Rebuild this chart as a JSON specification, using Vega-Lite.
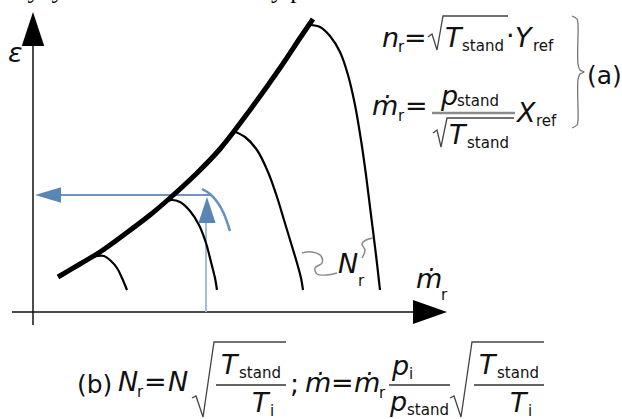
{
  "$schema": "https://vega.github.io/schema/vega-lite/v6.json",
  "width": 622,
  "height": 419,
  "padding": 0,
  "autosize": {"type": "none"},
  "background": "white",
  "config": {"view": {"stroke": null}},
  "datasets": {
    "segments": [
      {"part": "axis", "x": 0, "y": -13, "x2": 0, "y2": 270},
      {"part": "axis", "x": -21, "y": 0, "x2": 400, "y2": 0},
      {"part": "guide-h", "x": 20, "y": 117, "x2": 177, "y2": 117},
      {"part": "guide-v", "x": 173, "y": 0, "x2": 173, "y2": 95},
      {"part": "bar-a", "x": 399, "y": 199, "x2": 482, "y2": 199},
      {"part": "bar-b", "x": 183, "y": -73, "x2": 253, "y2": -73},
      {"part": "bar-b", "x": 356, "y": -73, "x2": 417, "y2": -73},
      {"part": "bar-b", "x": 441, "y": -73, "x2": 511, "y2": -73}
    ],
    "heads": [
      {"part": "axis", "dir": "up", "x": 0, "y": 283},
      {"part": "axis", "dir": "right", "x": 397, "y": 0},
      {"part": "guide", "dir": "left", "x": 15, "y": 117},
      {"part": "guide", "dir": "up", "x": 174, "y": 102}
    ],
    "curves": [
      {"line": "env", "x": 25, "y": 35}, {"line": "env", "x": 47, "y": 48}, {"line": "env", "x": 67, "y": 60},
      {"line": "env", "x": 92, "y": 78}, {"line": "env", "x": 117, "y": 97}, {"line": "env", "x": 137, "y": 114},
      {"line": "env", "x": 162, "y": 137}, {"line": "env", "x": 187, "y": 163}, {"line": "env", "x": 217, "y": 202},
      {"line": "env", "x": 247, "y": 244}, {"line": "env", "x": 267, "y": 274}, {"line": "env", "x": 280, "y": 293},

      {"line": "s1", "x": 57, "y": 54}, {"line": "s1", "x": 64, "y": 56}, {"line": "s1", "x": 71, "y": 56},
      {"line": "s1", "x": 78, "y": 51}, {"line": "s1", "x": 84, "y": 44}, {"line": "s1", "x": 89, "y": 34},
      {"line": "s1", "x": 94, "y": 22},

      {"line": "s2", "x": 132, "y": 110}, {"line": "s2", "x": 139, "y": 112}, {"line": "s2", "x": 147, "y": 110},
      {"line": "s2", "x": 157, "y": 101}, {"line": "s2", "x": 166, "y": 87}, {"line": "s2", "x": 173, "y": 69},
      {"line": "s2", "x": 178, "y": 50}, {"line": "s2", "x": 182, "y": 34}, {"line": "s2", "x": 184, "y": 22},

      {"line": "s3", "x": 200, "y": 181}, {"line": "s3", "x": 212, "y": 175}, {"line": "s3", "x": 224, "y": 162},
      {"line": "s3", "x": 235, "y": 140}, {"line": "s3", "x": 244, "y": 115}, {"line": "s3", "x": 251, "y": 92},
      {"line": "s3", "x": 258, "y": 69}, {"line": "s3", "x": 264, "y": 49}, {"line": "s3", "x": 268, "y": 34},
      {"line": "s3", "x": 270, "y": 22},

      {"line": "s4", "x": 277, "y": 287}, {"line": "s4", "x": 287, "y": 285}, {"line": "s4", "x": 297, "y": 276},
      {"line": "s4", "x": 307, "y": 260}, {"line": "s4", "x": 315, "y": 237}, {"line": "s4", "x": 322, "y": 207},
      {"line": "s4", "x": 328, "y": 172}, {"line": "s4", "x": 333, "y": 137}, {"line": "s4", "x": 338, "y": 97},
      {"line": "s4", "x": 343, "y": 57}, {"line": "s4", "x": 347, "y": 22},

      {"line": "arc", "x": 169, "y": 123}, {"line": "arc", "x": 177, "y": 118}, {"line": "arc", "x": 185, "y": 109},
      {"line": "arc", "x": 191, "y": 98}, {"line": "arc", "x": 197, "y": 81},

      {"line": "lead1", "x": 269, "y": 59}, {"line": "lead1", "x": 279, "y": 60}, {"line": "lead1", "x": 288, "y": 56},
      {"line": "lead1", "x": 289, "y": 49}, {"line": "lead1", "x": 282, "y": 44}, {"line": "lead1", "x": 284, "y": 38},
      {"line": "lead1", "x": 294, "y": 37}, {"line": "lead1", "x": 304, "y": 39},

      {"line": "lead2", "x": 329, "y": 54}, {"line": "lead2", "x": 332, "y": 62}, {"line": "lead2", "x": 329, "y": 68},
      {"line": "lead2", "x": 333, "y": 72}, {"line": "lead2", "x": 340, "y": 74}
    ],
    "strokes": [
      {"stroke": "rootA1", "x": 395, "y": 275}, {"stroke": "rootA1", "x": 399, "y": 278}, {"stroke": "rootA1", "x": 404, "y": 262},
      {"stroke": "rootA1", "x": 410, "y": 296}, {"stroke": "rootA1", "x": 475, "y": 296},
      {"stroke": "rootA2", "x": 400, "y": 179}, {"stroke": "rootA2", "x": 404, "y": 182}, {"stroke": "rootA2", "x": 408, "y": 165},
      {"stroke": "rootA2", "x": 414, "y": 194}, {"stroke": "rootA2", "x": 481, "y": 194},
      {"stroke": "rootB1", "x": 159, "y": -86}, {"stroke": "rootB1", "x": 163, "y": -84}, {"stroke": "rootB1", "x": 170, "y": -105},
      {"stroke": "rootB1", "x": 181, "y": -30}, {"stroke": "rootB1", "x": 253, "y": -30},
      {"stroke": "rootB2", "x": 417, "y": -86}, {"stroke": "rootB2", "x": 421, "y": -84}, {"stroke": "rootB2", "x": 428, "y": -105},
      {"stroke": "rootB2", "x": 439, "y": -30}, {"stroke": "rootB2", "x": 511, "y": -30}
    ],
    "brace": [
      {"x": 539, "y": 296}, {"x": 544, "y": 293}, {"x": 545, "y": 287}, {"x": 545, "y": 248}, {"x": 547, "y": 242},
      {"x": 551, "y": 240}, {"x": 547, "y": 238}, {"x": 545, "y": 232}, {"x": 545, "y": 192}, {"x": 544, "y": 187},
      {"x": 539, "y": 184}
    ],
    "glyphs": [
      {"style": "it", "x": 349, "y": 265, "t": "n"},
      {"style": "it", "x": 412, "y": 265, "t": "T"},
      {"style": "it", "x": 482, "y": 265, "t": "Y"},
      {"style": "it", "x": 339, "y": 197, "t": "ṁ"},
      {"style": "it", "x": 408, "y": 207, "t": "p"},
      {"style": "it", "x": 416, "y": 168, "t": "T"},
      {"style": "it", "x": 484, "y": 190, "t": "X"},
      {"style": "it", "x": 85, "y": -79, "t": "N"},
      {"style": "it", "x": 135, "y": -79, "t": "N"},
      {"style": "it", "x": 188, "y": -62, "t": "T"},
      {"style": "it", "x": 219, "y": -100, "t": "T"},
      {"style": "it", "x": 272, "y": -80, "t": "ṁ"},
      {"style": "it", "x": 321, "y": -80, "t": "ṁ"},
      {"style": "it", "x": 359, "y": -63, "t": "p"},
      {"style": "it", "x": 357, "y": -99, "t": "p"},
      {"style": "it", "x": 446, "y": -62, "t": "T"},
      {"style": "it", "x": 477, "y": -100, "t": "T"},
      {"style": "it", "x": 305, "y": 39, "t": "N"},
      {"style": "it", "x": 383, "y": 24, "t": "ṁ"},
      {"style": "it", "x": -25, "y": 250, "t": "ε"},
      {"style": "op", "x": 371, "y": 265, "t": "="},
      {"style": "op", "x": 473, "y": 267, "t": "·"},
      {"style": "op", "x": 372, "y": 197, "t": "="},
      {"style": "op", "x": 111, "y": -79, "t": "="},
      {"style": "op", "x": 257, "y": -81, "t": ";"},
      {"style": "op", "x": 298, "y": -80, "t": "="},
      {"style": "tag", "x": 554, "y": 228, "t": "(a)"},
      {"style": "tag", "x": 44, "y": -81, "t": "(b)"},
      {"style": "sub", "x": 365, "y": 260, "t": "r"},
      {"style": "sub", "x": 429, "y": 261, "t": "stand"},
      {"style": "sub", "x": 500, "y": 261, "t": "ref"},
      {"style": "sub", "x": 365, "y": 191, "t": "r"},
      {"style": "sub", "x": 424, "y": 206, "t": "stand"},
      {"style": "sub", "x": 434, "y": 164, "t": "stand"},
      {"style": "sub", "x": 503, "y": 186, "t": "ref"},
      {"style": "sub", "x": 104, "y": -85, "t": "r"},
      {"style": "sub", "x": 206, "y": -66, "t": "stand"},
      {"style": "sub", "x": 237, "y": -104, "t": "i"},
      {"style": "sub", "x": 346, "y": -86, "t": "r"},
      {"style": "sub", "x": 376, "y": -67, "t": "i"},
      {"style": "sub", "x": 374, "y": -103, "t": "stand"},
      {"style": "sub", "x": 464, "y": -66, "t": "stand"},
      {"style": "sub", "x": 495, "y": -104, "t": "i"},
      {"style": "sub", "x": 325, "y": 26, "t": "r"},
      {"style": "sub", "x": 408, "y": 12, "t": "r"},
      {"style": "serif", "x": -48, "y": 314, "t": "analýzy v rozsahu celé vazby průtoku."}
    ]
  },
  "encoding": {
    "x": {"field": "x", "type": "quantitative", "scale": {"domain": [-33, 589], "nice": false, "zero": false}, "axis": null},
    "y": {"field": "y", "type": "quantitative", "scale": {"domain": [-107, 312], "nice": false, "zero": false}, "axis": null}
  },
  "layer": [
    {
      "data": {"name": "segments"},
      "transform": [{"filter": "datum.part === 'axis'"}],
      "mark": {"type": "rule", "color": "#111", "strokeWidth": 1.5},
      "encoding": {"x2": {"field": "x2"}, "y2": {"field": "y2"}}
    },
    {
      "data": {"name": "segments"},
      "transform": [{"filter": "datum.part === 'guide-h'"}],
      "mark": {"type": "rule", "color": "#6f94c0", "strokeWidth": 2},
      "encoding": {"x2": {"field": "x2"}, "y2": {"field": "y2"}}
    },
    {
      "data": {"name": "segments"},
      "transform": [{"filter": "datum.part === 'guide-v'"}],
      "mark": {"type": "rule", "color": "#a4bcd9", "strokeWidth": 2},
      "encoding": {"x2": {"field": "x2"}, "y2": {"field": "y2"}}
    },
    {
      "data": {"name": "segments"},
      "transform": [{"filter": "datum.part === 'bar-a'"}],
      "mark": {"type": "rule", "color": "#8c8c8c", "strokeWidth": 2.5},
      "encoding": {"x2": {"field": "x2"}, "y2": {"field": "y2"}}
    },
    {
      "data": {"name": "segments"},
      "transform": [{"filter": "datum.part === 'bar-b'"}],
      "mark": {"type": "rule", "color": "#333", "strokeWidth": 1.3},
      "encoding": {"x2": {"field": "x2"}, "y2": {"field": "y2"}}
    },
    {
      "data": {"name": "curves"},
      "transform": [{"filter": "datum.line === 'env'"}],
      "mark": {"type": "line", "color": "#000", "strokeWidth": 5, "interpolate": "catmull-rom"},
      "encoding": {"order": {"value": null}}
    },
    {
      "data": {"name": "curves"},
      "transform": [{"filter": "datum.line === 's1' || datum.line === 's2' || datum.line === 's3' || datum.line === 's4'"}],
      "mark": {"type": "line", "color": "#000", "strokeWidth": 2.2, "interpolate": "catmull-rom"},
      "encoding": {"detail": {"field": "line"}, "order": {"value": null}}
    },
    {
      "data": {"name": "curves"},
      "transform": [{"filter": "datum.line === 'arc'"}],
      "mark": {"type": "line", "color": "#6690c0", "strokeWidth": 2.5, "interpolate": "catmull-rom"},
      "encoding": {"order": {"value": null}}
    },
    {
      "data": {"name": "curves"},
      "transform": [{"filter": "datum.line === 'lead1' || datum.line === 'lead2'"}],
      "mark": {"type": "line", "color": "#8a8a8a", "strokeWidth": 1.5, "interpolate": "catmull-rom"},
      "encoding": {"detail": {"field": "line"}, "order": {"value": null}}
    },
    {
      "data": {"name": "strokes"},
      "mark": {"type": "line", "color": "#444", "strokeWidth": 1.3},
      "encoding": {"detail": {"field": "stroke"}, "order": {"value": null}}
    },
    {
      "data": {"name": "brace"},
      "mark": {"type": "line", "color": "#777", "strokeWidth": 1.3, "interpolate": "catmull-rom"},
      "encoding": {"order": {"value": null}}
    },
    {
      "data": {"name": "heads"},
      "transform": [{"filter": "datum.part === 'axis'"}],
      "mark": {"type": "point", "filled": true, "opacity": 1, "size": 1156, "color": "#000", "strokeWidth": 0},
      "encoding": {
        "shape": {"field": "dir", "type": "nominal", "legend": null,
          "scale": {"domain": ["up", "right", "left"], "range": ["M0,-1L0.66,1L-0.66,1Z", "M1,0L-1,0.7L-1,-0.7Z", "M-1,0L1,-0.6L1,0.6Z"]}}
      }
    },
    {
      "data": {"name": "heads"},
      "transform": [{"filter": "datum.part === 'guide'"}],
      "mark": {"type": "point", "filled": true, "opacity": 1, "size": 676, "color": "#5a86b6", "strokeWidth": 0},
      "encoding": {
        "shape": {"field": "dir", "type": "nominal", "legend": null,
          "scale": {"domain": ["up", "right", "left"], "range": ["M0,-1L0.66,1L-0.66,1Z", "M1,0L-1,0.7L-1,-0.7Z", "M-1,0L1,-0.6L1,0.6Z"]}}
      }
    },
    {
      "data": {"name": "glyphs"},
      "transform": [{"filter": "datum.style === 'it'"}],
      "mark": {"type": "text", "font": "DejaVu Sans", "fontSize": 27, "fontStyle": "italic", "align": "left", "baseline": "alphabetic", "color": "#111"},
      "encoding": {"text": {"field": "t"}}
    },
    {
      "data": {"name": "glyphs"},
      "transform": [{"filter": "datum.style === 'op'"}],
      "mark": {"type": "text", "font": "DejaVu Sans", "fontSize": 27, "align": "left", "baseline": "alphabetic", "color": "#111"},
      "encoding": {"text": {"field": "t"}}
    },
    {
      "data": {"name": "glyphs"},
      "transform": [{"filter": "datum.style === 'tag'"}],
      "mark": {"type": "text", "font": "DejaVu Sans", "fontSize": 25, "align": "left", "baseline": "alphabetic", "color": "#111"},
      "encoding": {"text": {"field": "t"}}
    },
    {
      "data": {"name": "glyphs"},
      "transform": [{"filter": "datum.style === 'sub'"}],
      "mark": {"type": "text", "font": "DejaVu Sans", "fontSize": 15, "align": "left", "baseline": "alphabetic", "color": "#111"},
      "encoding": {"text": {"field": "t"}}
    },
    {
      "data": {"name": "glyphs"},
      "transform": [{"filter": "datum.style === 'serif'"}],
      "mark": {"type": "text", "font": "Liberation Serif", "fontSize": 25.5, "align": "left", "baseline": "alphabetic", "color": "#000"},
      "encoding": {"text": {"field": "t"}}
    }
  ]
}
